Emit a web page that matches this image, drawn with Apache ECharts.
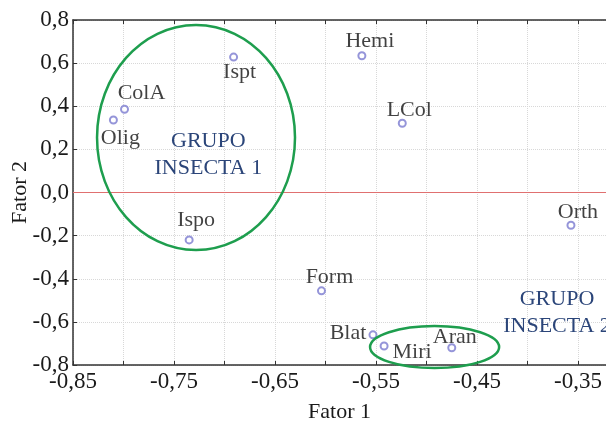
<!DOCTYPE html>
<html><head><meta charset="utf-8">
<script src="https://cdn.jsdelivr.net/npm/echarts@6/dist/echarts.min.js"></script>
<style>html,body{margin:0;padding:0;background:#fff}#c{width:606px;height:423px}</style>
</head><body><div id="c"></div>
<script>
// Data
const names = ['Ispt','ColA','Olig','Ispo','Hemi','LCol','Orth','Form','Blat','Miri','Aran'];
const fator1 = [-0.691,-0.799,-0.810,-0.735,-0.564,-0.524,-0.357,-0.604,-0.553,-0.542,-0.475];
const fator2 = [0.628,0.386,0.336,-0.220,0.634,0.321,-0.152,-0.456,-0.660,-0.712,-0.720];
const xTicks = [-0.85,-0.75,-0.65,-0.55,-0.45,-0.35];
const yTicks = [-0.8,-0.6,-0.4,-0.2,0.0,0.2,0.4,0.6,0.8];
const groupNames = ['GRUPO\nINSECTA 1','GRUPO\nINSECTA 2'];
const groupTextAt = [[-0.716,0.174],[-0.3708,-0.556]];
// ellipses: center x, center y, radius x, radius y (data units)
const ellipses = [[-0.7282,0.255,0.098,0.522],[-0.492,-0.7167,0.0639,0.0974]];

// label placement (pixel offsets from point to label centre)
const labelOffset = {Ispt:[6,15],ColA:[17,-16],Olig:[7,18],Ispo:[7,-20],Hemi:[8,-15],LCol:[7,-13],
  Orth:[7,-13],Form:[8,-14],Blat:[-25,-2],Miri:[28,6],Aran:[3,-11]};

const xMin=-0.85, xMax=-0.3223, yMin=-0.8, yMax=0.8;
const serif='"Liberation Serif","DejaVu Serif",serif';
const chart = echarts.init(document.getElementById('c'));
const xFmt = v => { const k=(v-xMin)/0.05; const r=Math.round(k); if(Math.abs(k-r)>1e-6||r%2) return '';
  const t=xTicks.find(t=>Math.abs(t-v)<1e-6); return t===undefined?'':t.toFixed(2).replace('.',','); };
const yFmt = v => { const t=yTicks.find(t=>Math.abs(t-v)<1e-6); return t===undefined?'':t.toFixed(1).replace('.',','); };

chart.setOption({
  animation:false,
  grid:{left:73,top:20,right:0,bottom:58,containLabel:false,outerBoundsMode:'none'},
  xAxis:[{type:'value',min:xMin,max:xMax,interval:0.05,position:'bottom',
    name:'Fator 1',nameLocation:'middle',nameGap:36,nameMoveOverlap:false,nameTextStyle:{fontFamily:serif,fontSize:22,color:'#1a1a1a'},
    axisLine:{show:true,onZero:false,lineStyle:{color:'#333',width:1.5}},
    axisTick:{show:true,inside:true,length:4,lineStyle:{color:'#333'}},
    axisLabel:{formatter:xFmt,fontFamily:serif,fontSize:23,color:'#1a1a1a',margin:5,showMaxLabel:false},
    splitLine:{show:true,lineStyle:{color:'#d8d8d8',type:[1,1],width:1}}},
   {type:'value',min:xMin,max:xMax,interval:0.05,position:'top',
    axisLine:{show:true,onZero:false,lineStyle:{color:'#333',width:1.5}},
    axisTick:{show:true,inside:true,length:4,lineStyle:{color:'#333'}},
    axisLabel:{show:false},splitLine:{show:false}}],
  yAxis:{type:'value',min:yMin,max:yMax,interval:0.2,
    name:'Fator 2',nameLocation:'middle',nameGap:42,nameMoveOverlap:false,nameTextStyle:{fontFamily:serif,fontSize:22,color:'#1a1a1a'},
    axisLine:{show:true,onZero:false,lineStyle:{color:'#333',width:1.5}},
    axisTick:{show:true,inside:true,length:4,lineStyle:{color:'#333'}},
    axisLabel:{formatter:yFmt,fontFamily:serif,fontSize:23,color:'#1a1a1a',margin:4},
    splitLine:{show:true,lineStyle:{color:'#d8d8d8',type:[1,1],width:1}}},
  series:[{type:'scatter',symbol:'emptyCircle',symbolSize:7,
    itemStyle:{color:'#7b7bcf',borderColor:'#7b7bcf',borderWidth:1},
    data:names.map((n,i)=>({name:n,value:[fator1[i],fator2[i]],
      label:{show:true,position:'inside',offset:labelOffset[n],formatter:n}})),
    label:{fontFamily:serif,fontSize:22,color:'#111'},
    markLine:{silent:true,symbol:'none',label:{show:false},
      lineStyle:{color:'#e07070',width:1,type:'solid'},data:[{yAxis:0}]}
  }]
});

function drawOverlay(){
  const els=[];
  ellipses.forEach(e=>{
    const c=chart.convertToPixel({gridIndex:0},[e[0],e[1]]);
    const p=chart.convertToPixel({gridIndex:0},[e[0]+e[2],e[1]+e[3]]);
    els.push({type:'ellipse',shape:{cx:c[0],cy:c[1],rx:Math.abs(p[0]-c[0]),ry:Math.abs(c[1]-p[1])},
      style:{fill:null,stroke:'#1e9e4e',lineWidth:2.5},z:10});
  });
  groupNames.forEach((t,i)=>{
    const c=chart.convertToPixel({gridIndex:0},groupTextAt[i]);
    els.push({type:'text',x:c[0],y:c[1],style:{text:t,fontFamily:serif,fontSize:22,fill:'#2b4579',
      align:'center',verticalAlign:'middle',lineHeight:27},z:10});
  });
  chart.setOption({graphic:{elements:els}});
}
drawOverlay();
</script></body></html>
